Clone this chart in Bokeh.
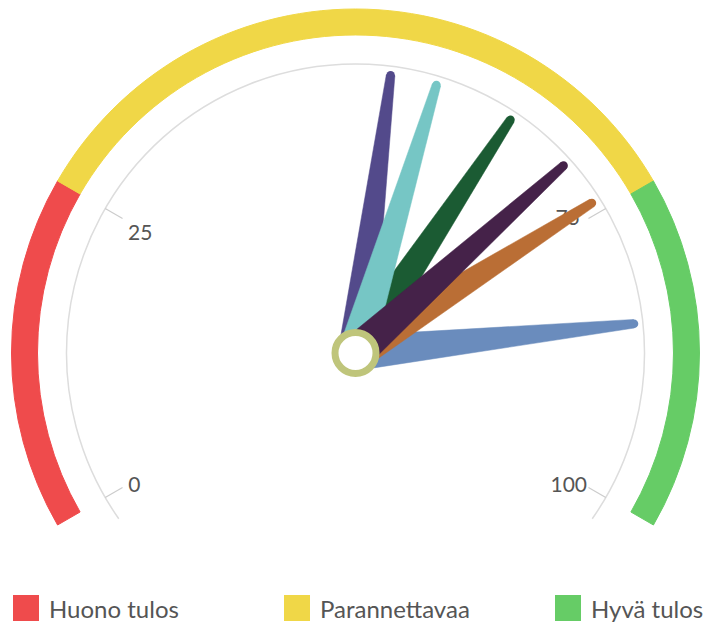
import numpy as np
from bokeh.plotting import figure
from bokeh.models import Range1d, ColumnDataSource
from bokeh.embed import file_html
from bokeh.resources import INLINE
from bokeh.core.properties import value

# ---- data ----
band_names = ["Huono tulos", "Parannettavaa", "Hyvä tulos"]
band_from = [0, 25, 75]
band_to = [25, 75, 100]
band_colors = ["#ef4b4c", "#f0d747", "#66cc66"]

tick_values = [0, 25, 75, 100]
tick_labels = ["0", "25", "75", "100"]

needle_values = [85, 74, 64, 53, 57, 70]
needle_colors = ["#6a8cbd", "#ba6e35", "#1b5b33", "#534a8b", "#76c6c5", "#452249"]

# ---- layout constants (data units == screen pixels, y up) ----
W, H = 705, 623
CX, CY = 355.0, H - 352.5
FONT = "Lato"
LABEL_R = 252
LABEL_NUDGE_X = [-3, 3, -6, -5]     # small label offsets (px)
LABEL_NUDGE_Y = [-5, -5, 10, -5]

def ang(v):
    return np.deg2rad(210.0 - 2.4 * v)

p = figure(width=W, height=H, x_range=Range1d(0, W), y_range=Range1d(0, H),
           output_backend="svg", toolbar_location=None, min_border=0,
           x_axis_type=None, y_axis_type=None)
p.grid.visible = False
p.outline_line_color = None
p.background_fill_color = "white"
p.border_fill_color = "white"

# bands
bsrc = ColumnDataSource(dict(
    start=[ang(t) for t in band_to],
    end=[ang(f) for f in band_from],
    color=band_colors,
))
p.annular_wedge(x=CX, y=CY, inner_radius=318, outer_radius=344,
                start_angle="start", end_angle="end", color="color", source=bsrc)

# axis arc
p.arc(x=CX, y=CY, radius=289, start_angle=np.deg2rad(-35), end_angle=np.deg2rad(215),
      line_color="#dddddd", line_width=1.5)

# ticks
ta = np.array([ang(v) for v in tick_values])
p.segment(x0=CX + 289 * np.cos(ta), y0=CY + 289 * np.sin(ta),
          x1=CX + 269 * np.cos(ta), y1=CY + 269 * np.sin(ta),
          line_color="#cccccc", line_width=1.2)

# tick labels
p.text(x=CX + LABEL_R * np.cos(ta) + np.array(LABEL_NUDGE_X),
       y=CY + LABEL_R * np.sin(ta) + np.array(LABEL_NUDGE_Y), text=tick_labels,
       text_font=value(FONT), text_font_size="21px", text_color="#555555",
       text_align="center", text_baseline="middle")

# needles
BASE_HW, TIP_HW, LEN = 17.5, 4.3, 280
xs, ys, tx, ty = [], [], [], []
for v in needle_values:
    a = ang(v)
    ux, uy = np.cos(a), np.sin(a)
    nx, ny = -uy, ux
    xs.append([CX + nx * BASE_HW, CX + ux * LEN + nx * TIP_HW,
               CX + ux * LEN - nx * TIP_HW, CX - nx * BASE_HW])
    ys.append([CY + ny * BASE_HW, CY + uy * LEN + ny * TIP_HW,
               CY + uy * LEN - ny * TIP_HW, CY - ny * BASE_HW])
    tx.append(CX + ux * LEN)
    ty.append(CY + uy * LEN)
for i in range(len(needle_values)):
    p.patch(xs[i], ys[i], fill_color=needle_colors[i], line_color=needle_colors[i], line_width=0.5)
    p.circle(x=tx[i], y=ty[i], radius=TIP_HW, fill_color=needle_colors[i], line_color=None)

# pivot
p.circle(x=CX, y=CY, radius=20.5, fill_color="white", line_color="#bfc57b", line_width=7)

# legend
LX, LY, STEP, SQ = 25.5, H - 607.5, 271, 26
lx = [LX + i * STEP for i in range(len(band_names))]
p.rect(x=lx, y=[LY] * len(lx), width=SQ, height=SQ, fill_color=band_colors, line_color=None)
p.text(x=[x + SQ / 2 + 10 for x in lx], y=[LY] * len(lx), text=band_names,
       text_font=value(FONT), text_font_size="24px", text_color="#555555",
       text_align="left", text_baseline="middle")

open("out.html", "w").write(file_html(p, INLINE))
